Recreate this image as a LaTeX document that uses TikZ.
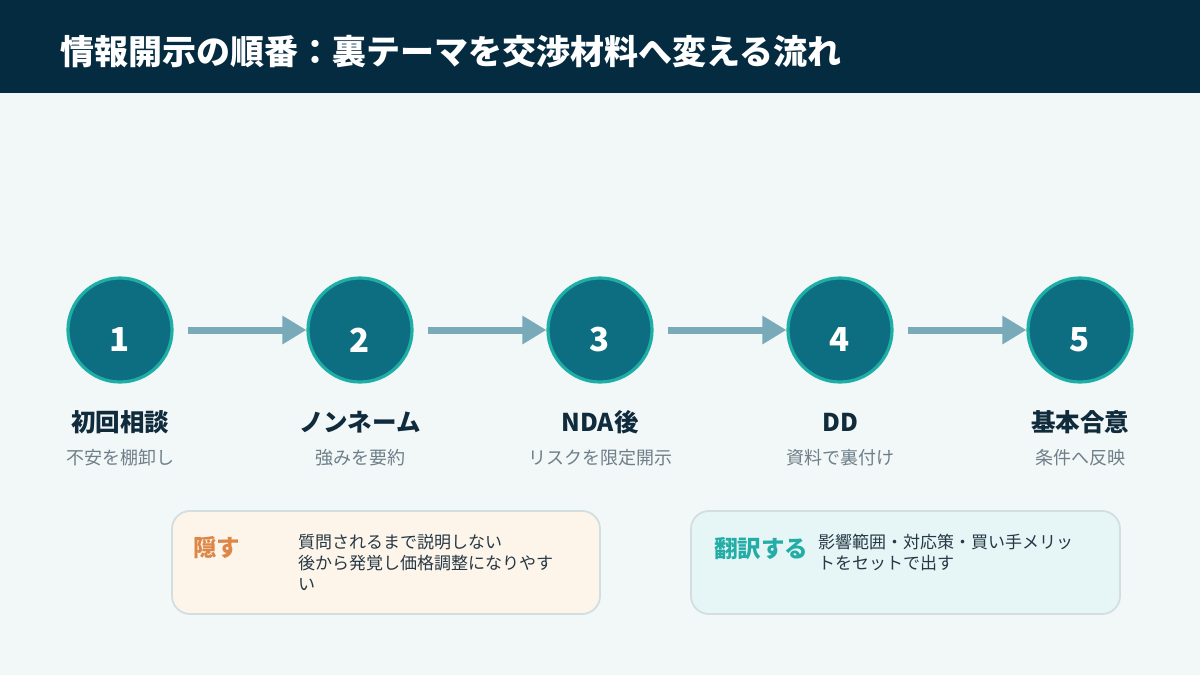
\documentclass[tikz,border=0pt]{standalone}
\usepackage{fontspec}
\setmainfont{Noto Sans CJK JP}
\usetikzlibrary{arrows.meta}
\definecolor{hdr}{HTML}{052B40}
\definecolor{bgc}{HTML}{F2F7F8}
\definecolor{circfill}{HTML}{0C6E80}
\definecolor{ring}{HTML}{1FAEA6}
\definecolor{arrc}{HTML}{79AAB9}
\definecolor{ttl}{HTML}{102B3C}
\definecolor{subc}{HTML}{6E7F89}
\definecolor{bdr}{HTML}{D3DEE1}
\definecolor{lfill}{HTML}{FEF5EA}
\definecolor{rfill}{HTML}{E6F6F6}
\definecolor{orng}{HTML}{DC8748}
\definecolor{teal2}{HTML}{24ADA6}
\definecolor{body}{HTML}{253845}
\tikzset{
  stepcirc/.style={circle, minimum size=104pt, inner sep=0pt, fill=circfill, draw=ring, line width=3.2pt},
  numtxt/.style={text=white, font=\bfseries\fontsize{33}{33}\selectfont, inner sep=0pt},
  steptitle/.style={anchor=base, text=ttl, font=\bfseries\fontsize{24.5}{24.5}\selectfont, inner sep=0pt},
  stepsub/.style={anchor=base, text=subc, font=\fontsize{18}{18}\selectfont, inner sep=0pt},
  arr/.style={draw=arrc, line width=7pt, -{Triangle[length=24pt,width=27pt]}},
  notebox/.style={draw=bdr, line width=1.8pt, rounded corners=18pt},
  notehead/.style={anchor=base west, font=\bfseries\fontsize{23.5}{23.5}\selectfont, inner sep=0pt},
  notebody/.style={anchor=base west, text=body, font=\fontsize{17}{21}\selectfont, inner sep=0pt, text width=300pt, align=left}
}
\begin{document}
\begin{tikzpicture}[x=1pt,y=-1pt]
\useasboundingbox (0,0) rectangle (1200,675);
\fill[bgc] (0,0) rectangle (1200,675);
\fill[hdr] (0,0) rectangle (1200,93);
\node[anchor=base west, text=white, font=\bfseries\fontsize{34}{34}\selectfont, inner sep=0pt] (title) at (60,64.5) {情報開示の順番：裏テーマを交渉材料へ変える流れ};

\foreach \i/\x in {1/120,2/360,3/600,4/840,5/1080}{
  \node[stepcirc] (c\i) at (\x,330) {};
  \node[numtxt] (n\i) at (\x,340) {\i};
}
\draw[arr] ([xshift=14pt]c1.east) -- (c2.west);
\draw[arr] ([xshift=14pt]c2.east) -- (c3.west);
\draw[arr] ([xshift=14pt]c3.east) -- (c4.west);
\draw[arr] ([xshift=14pt]c4.east) -- (c5.west);

\node[steptitle] (t1) at (120,431) {初回相談};
\node[steptitle] (t2) at (360,431) {ノンネーム};
\node[steptitle] (t3) at (600,431) {NDA後};
\node[steptitle] (t4) at (840,431) {DD};
\node[steptitle] (t5) at (1080,431) {基本合意};

\node[stepsub] (s1) at (120,464.5) {不安を棚卸し};
\node[stepsub] (s2) at (360,464.5) {強みを要約};
\node[stepsub] (s3) at (600,464.5) {リスクを限定開示};
\node[stepsub] (s4) at (840,464.5) {資料で裏付け};
\node[stepsub] (s5) at (1080,464.5) {条件へ反映};

\draw[notebox, fill=lfill] (172,511) rectangle (600,614);
\node[notehead, text=orng] (h1) at (193,556.5) {隠す};
\node[notebody] (b1) at (298,548) {質問されるまで説明しない\\後から発覚し価格調整になりやす\\い};

\draw[notebox, fill=rfill] (691,511) rectangle (1120,614);
\node[notehead, text=teal2] (h2) at (714,557.5) {翻訳する};
\node[notebody] (b2) at (818,548) {影響範囲・対応策・買い手メリッ\\トをセットで出す};
\end{tikzpicture}
\end{document}
